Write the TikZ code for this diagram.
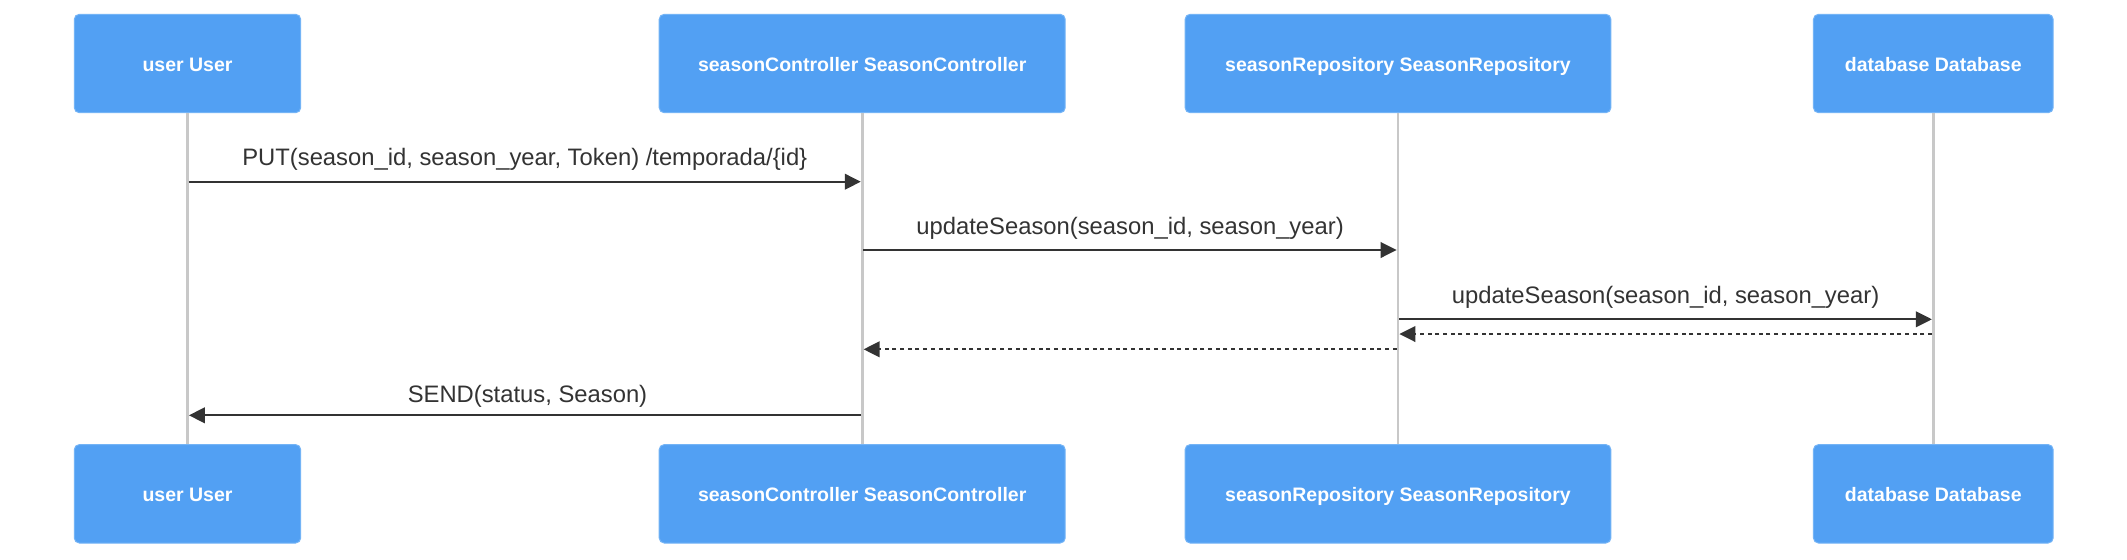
\documentclass[tikz,border=0pt]{standalone}
\usepackage{fontspec}
\setmainfont{Liberation Sans}
\usetikzlibrary{arrows.meta}
\definecolor{boxblue}{HTML}{52A0F3}
\definecolor{boxedge}{HTML}{74B4F6}
\definecolor{lifegray}{HTML}{C8C8C8}
\definecolor{msgdark}{HTML}{333333}
\begin{document}
\begin{tikzpicture}[x=0.5pt,y=-0.5pt,
  actor/.style={draw=boxedge, line width=0.5pt, fill=boxblue, rounded corners=2.5pt,
    minimum height=49.2pt, inner sep=0pt, text=white,
    text height=7.5pt, text depth=0pt,
    font=\fontsize{9.75}{11}\selectfont\bfseries},
  life/.style={draw=lifegray, line width=1.3pt},
  msg/.style={draw=msgdark, line width=1.05pt, -{Triangle[length=8pt,width=7.8pt]},
    shorten <=0.6pt, shorten >=0.7pt},
  reply/.style={msg, dash pattern=on 2pt off 1.85pt},
  msglabel/.style={anchor=base, inner sep=0pt, text=msgdark,
    font=\fontsize{11.9}{14}\selectfont}]
\useasboundingbox (0,0) rectangle (2127,559);
\fill[white] (0,0) rectangle (2127,559);
\coordinate (uX) at (187.5,0);
\coordinate (cX) at (862.2,0);
\coordinate (rX) at (1398,0);
\coordinate (dX) at (1933.3,0);
\node[actor, minimum width=113.2pt] (userT) at (uX |- 0,63.5) {user User};
\node[actor, minimum width=203pt] (ctrlT) at (cX |- 0,63.5) {seasonController SeasonController};
\node[actor, minimum width=212.9pt] (repoT) at (rX |- 0,63.5) {seasonRepository SeasonRepository};
\node[actor, minimum width=119.85pt] (dbT) at (dX |- 0,63.5) {database Database};
\node[actor, minimum width=113.2pt] (userB) at (uX |- 0,493.8) {user User};
\node[actor, minimum width=203pt] (ctrlB) at (cX |- 0,493.8) {seasonController SeasonController};
\node[actor, minimum width=212.9pt] (repoB) at (rX |- 0,493.8) {seasonRepository SeasonRepository};
\node[actor, minimum width=119.85pt] (dbB) at (dX |- 0,493.8) {database Database};
\draw[life] (userT.south) -- (userB.north);
\draw[life] (ctrlT.south) -- (ctrlB.north);
\draw[life] (repoT.south) -- (repoB.north);
\draw[life] (dbT.south) -- (dbB.north);
\coordinate (m1a) at (uX |- 0,181.7);
\coordinate (m1b) at (cX |- 0,181.7);
\coordinate (m2a) at (cX |- 0,250);
\coordinate (m2b) at (rX |- 0,250);
\coordinate (m3a) at (rX |- 0,319.3);
\coordinate (m3b) at (dX |- 0,319.3);
\coordinate (m4a) at (dX |- 0,334);
\coordinate (m4b) at (rX |- 0,334);
\coordinate (m5a) at (rX |- 0,349.3);
\coordinate (m5b) at (cX |- 0,349.3);
\coordinate (m6a) at (cX |- 0,415.3);
\coordinate (m6b) at (uX |- 0,415.3);
\draw[msg] (m1a) -- (m1b);
\draw[msg] (m2a) -- (m2b);
\draw[msg] (m3a) -- (m3b);
\draw[reply] (m4a) -- (m4b);
\draw[reply] (m5a) -- (m5b);
\draw[msg] (m6a) -- (m6b);
\node[msglabel] (l1) at (524.8,165.6) {PUT(season\_id, season\_year, Token) /temporada/\{id\}};
\node[msglabel] (l2) at (1130.1,234) {updateSeason(season\_id, season\_year)};
\node[msglabel] (l3) at (1665.6,303.3) {updateSeason(season\_id, season\_year)};
\node[msglabel] (l6) at (527.5,402.7) {SEND(status, Season)};
\end{tikzpicture}
\end{document}
